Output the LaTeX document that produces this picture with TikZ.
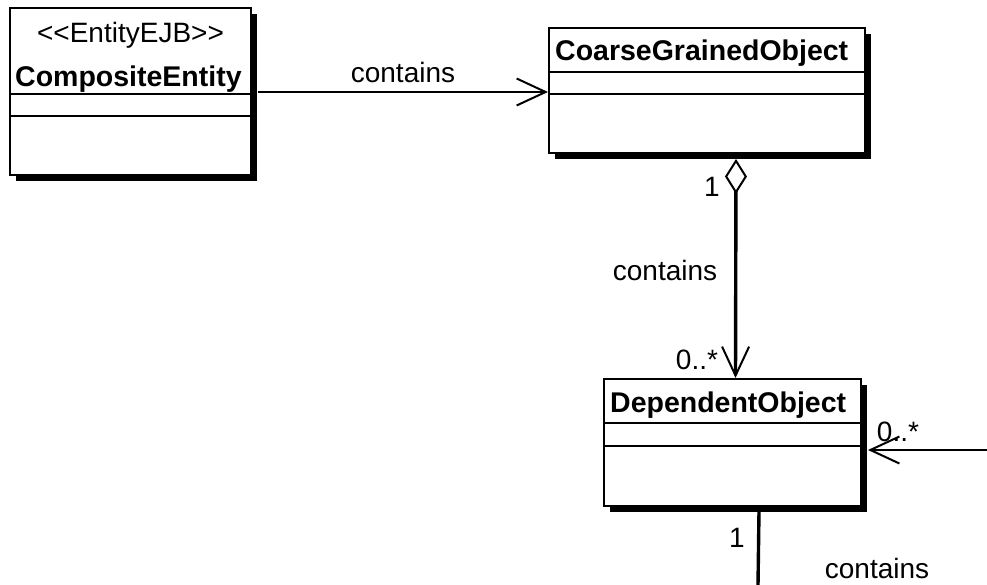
\documentclass[tikz,border=0pt]{standalone}
\usepackage{fontspec}
\setmainfont{Liberation Sans}
\usetikzlibrary{arrows.meta,calc,shadows}
\begin{document}
\begin{tikzpicture}[x=1pt,y=-1pt,
  cls/.style={draw, line width=2pt, fill=white, inner sep=0pt, anchor=north west,
    drop shadow={shadow xshift=6pt, shadow yshift=-6pt, fill=black, opacity=1}},
  divider/.style={line width=1.6pt},
  clsname/.style={font=\fontsize{28.5}{30}\selectfont\bfseries, anchor=west, inner sep=0pt},
  lbl/.style={font=\fontsize{28}{30}\selectfont, inner sep=0pt},
  assoc/.style={line width=2.6pt},
  vassoc/.style={line width=3.4pt},
  barbtip/.tip={Straight Barb[length=29pt,width=27pt,line width=2pt]},
  diamtip/.tip={Diamond[open,length=35pt,width=22pt,line width=2pt]}
]
\useasboundingbox (0,0) rectangle (987,585);

% CompositeEntity
\node[cls, minimum width=241pt, minimum height=167pt] (c1) at (9,7) {};
\node[lbl] (s1) at ($(c1.north)+(0,28)$) {<{}<EntityEJB>{}>};
\node[clsname] (n1) at ($(c1.west |- 0,79)+(6,0)$) {CompositeEntity};
\draw[divider] (c1.west |- 0,94) -- (c1.east |- 0,94);
\draw[divider] (c1.west |- 0,116) -- (c1.east |- 0,116);

% CoarseGrainedObject
\node[cls, minimum width=316pt, minimum height=125pt] (c2) at (548,27) {};
\node[clsname] (n2) at ($(c2.west |- 0,53)+(7,0)$) {CoarseGrainedObject};
\draw[divider] (c2.west |- 0,72) -- (c2.east |- 0,72);
\draw[divider] (c2.west |- 0,94) -- (c2.east |- 0,94);

% DependentObject
\node[cls, minimum width=257pt, minimum height=127pt] (c3) at (603,378) {};
\node[clsname] (n3) at ($(c3.west |- 0,405)+(7,0)$) {DependentObject};
\draw[divider] (c3.west |- 0,423) -- (c3.east |- 0,423);
\draw[divider] (c3.west |- 0,446) -- (c3.east |- 0,446);

% free ends
\coordinate (rightend) at (987,450);
\coordinate (bottomend) at (758,585);

% connectors
\draw[assoc, -barbtip] ($(c1.east |- 0,92)+(6,0)$) -- (c2.west |- 0,92);
\draw[vassoc, diamtip-barbtip] ($(c2.south)+(29,5)$) -- ($(c3.north)+(3,0)$);
\draw[assoc, -barbtip] (rightend) -- ($(c3.east |- 0,450)+(6,0)$);
\draw[vassoc] ($(c3.south)+(26.5,4)$) -- (bottomend);

% labels
\node[lbl] (l1) at (403,72) {contains};
\node[lbl] (m1) at (712,187) {1};
\node[lbl] (l2) at (665,270) {contains};
\node[lbl] (m2) at (697,360) {0..*};
\node[lbl] (m3) at (898,432) {0..*};
\node[lbl] (m4) at (737,538) {1};
\node[lbl] (l3) at (877,568) {contains};
\end{tikzpicture}
\end{document}
